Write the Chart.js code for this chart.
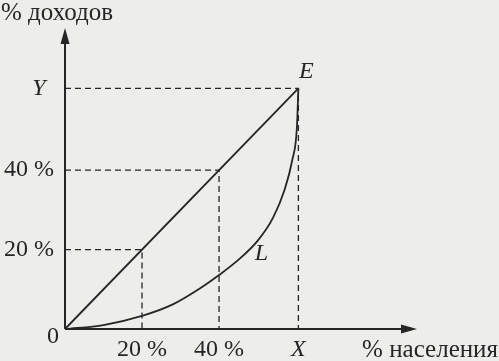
<!DOCTYPE html>
<html>
<head>
<meta charset="utf-8">
<script src="https://cdn.jsdelivr.net/npm/chart.js@4/dist/chart.umd.min.js"></script>
<style>
  html, body { margin: 0; padding: 0; background: #ededeb; }
  canvas { display: block; }
</style>
</head>
<body>
<canvas id="lorenz" width="499" height="361"></canvas>
<script>
// values (schematic units, 100% point drawn at ~60.6)
const guideTicks = [20, 40];
const tickLabels = ['20 %', '40 %'];
const fullShare = 60.6;
const xMax = 91.4;
const yMax = 75.8;

const lorenzX = [0, 10, 20, 28, 35, 40, 45, 50, 54, 57, 59, 60.2, 60.6];
const lorenzY = [0, 1.0, 3.3, 6.2, 10.2, 13.6, 17.4, 22.2, 28.0, 35.0, 42.5, 50.5, 60.6];

const ink = '#262626';
const serif = '"Liberation Serif", "DejaVu Serif", serif';

// dashed guide from the y axis to the diagonal and down to the x axis
function guide(v) {
  return {
    data: [{ x: 0, y: v }, { x: v, y: v }, { x: v, y: 0 }],
    borderColor: ink,
    borderWidth: 1.3,
    borderDash: [6, 4],
    pointRadius: 0,
    fill: false,
    clip: false,
  };
}

const datasets = [
  ...guideTicks.map(guide),
  guide(fullShare),
  {
    // line of absolute equality
    data: [{ x: 0, y: 0 }, { x: fullShare, y: fullShare }],
    borderColor: ink,
    borderWidth: 1.8,
    pointRadius: 0,
    clip: false,
  },
  {
    // Lorenz curve L
    data: lorenzX.map((x, i) => ({ x, y: lorenzY[i] })),
    borderColor: ink,
    borderWidth: 1.8,
    pointRadius: 0,
    cubicInterpolationMode: 'monotone',
    clip: false,
  },
];

const axesAndText = {
  id: 'axesAndText',
  beforeDraw(chart) {
    const { ctx } = chart;
    ctx.save();
    ctx.fillStyle = '#ededeb';
    ctx.fillRect(0, 0, chart.width, chart.height);
    ctx.restore();
  },
  afterDraw(chart) {
    const { ctx, scales: { x, y } } = chart;
    const x0 = x.getPixelForValue(0);
    const y0 = y.getPixelForValue(0);
    const xEnd = x.getPixelForValue(xMax);
    const yEnd = y.getPixelForValue(yMax);

    ctx.save();
    ctx.strokeStyle = ink;
    ctx.fillStyle = ink;
    ctx.lineWidth = 2;

    // axes
    ctx.beginPath();
    ctx.moveTo(x0, y0);
    ctx.lineTo(x0, yEnd + 10);
    ctx.moveTo(x0, y0);
    ctx.lineTo(xEnd - 10, y0);
    ctx.stroke();

    // arrow heads
    ctx.beginPath();
    ctx.moveTo(x0, yEnd);
    ctx.lineTo(x0 - 4.5, yEnd + 16);
    ctx.lineTo(x0 + 4.5, yEnd + 16);
    ctx.closePath();
    ctx.fill();
    ctx.beginPath();
    ctx.moveTo(xEnd, y0);
    ctx.lineTo(xEnd - 16, y0 - 4.5);
    ctx.lineTo(xEnd - 16, y0 + 4.5);
    ctx.closePath();
    ctx.fill();

    ctx.textBaseline = 'middle';
    ctx.font = '24px ' + serif;

    // tick labels
    ctx.textAlign = 'center';
    guideTicks.forEach((v, i) => {
      ctx.fillText(tickLabels[i], x.getPixelForValue(v), y0 + 21);
    });
    ctx.textAlign = 'right';
    guideTicks.forEach((v, i) => {
      ctx.fillText(tickLabels[i], x0 - 11, y.getPixelForValue(v));
    });
    ctx.fillText('0', x0 - 6, y0 + 8);

    // axis titles
    ctx.font = '25px ' + serif;
    ctx.textAlign = 'left';
    ctx.fillText('% доходов', 1, 13);
    ctx.textAlign = 'right';
    ctx.fillText('% населения', 498, y0 + 21);

    // point letters
    ctx.font = 'italic 24px ' + serif;
    ctx.textAlign = 'center';
    ctx.fillText('Y', x0 - 26, y.getPixelForValue(fullShare));
    ctx.fillText('X', x.getPixelForValue(fullShare), y0 + 21);
    ctx.fillText('E', x.getPixelForValue(fullShare) + 8, y.getPixelForValue(fullShare) - 17);
    ctx.fillText('L', x.getPixelForValue(51), y.getPixelForValue(19));
    ctx.restore();
  },
};

new Chart(document.getElementById('lorenz'), {
  type: 'line',
  data: { datasets },
  options: {
    responsive: false,
    animation: false,
    layout: { padding: { left: 65, top: 28, right: 82, bottom: 32 } },
    plugins: { legend: { display: false }, tooltip: { enabled: false } },
    scales: {
      x: { type: 'linear', min: 0, max: xMax, display: false },
      y: { type: 'linear', min: 0, max: yMax, display: false },
    },
  },
  plugins: [axesAndText],
});
</script>
</body>
</html>
